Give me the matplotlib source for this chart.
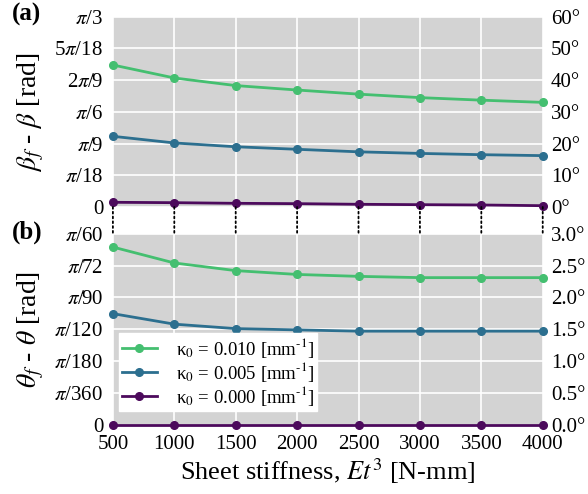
import numpy as np
import matplotlib
matplotlib.use("Agg")
import matplotlib.pyplot as plt
from matplotlib.patches import ConnectionPatch

plt.rcParams['font.family'] = ['Liberation Serif', 'DejaVu Serif']
plt.rcParams['mathtext.fontset'] = 'stix'

stiffness = [500, 1000, 1500, 2000, 2500, 3000, 3500, 4000]

# panel (a): beta_f - beta, degrees
beta_010 = [44.8, 40.7, 38.3, 36.9, 35.6, 34.5, 33.7, 33.0]
beta_005 = [22.3, 20.2, 19.0, 18.2, 17.4, 16.9, 16.5, 16.2]
beta_000 = [1.48, 1.36, 1.16, 1.05, 0.85, 0.73, 0.63, 0.41]

# panel (b): theta_f - theta, degrees
theta_010 = [2.79, 2.54, 2.42, 2.36, 2.33, 2.31, 2.31, 2.31]
theta_005 = [1.745, 1.58, 1.51, 1.49, 1.47, 1.47, 1.47, 1.47]
theta_000 = [0, 0, 0, 0, 0, 0, 0, 0]

labels = [r'κ$_0$ = 0.010 [mm$^{\text{-}1}$]', r'κ$_0$ = 0.005 [mm$^{\text{-}1}$]',
          r'κ$_0$ = 0.000 [mm$^{\text{-}1}$]']
colors = ['#44bf70', '#2c6f8f', '#4c0a5c']

a_ticks = [r'0', r'$\pi$/18', r'$\pi$/9', r'$\pi$/6', r'2$\pi$/9', r'5$\pi$/18', r'$\pi$/3']
b_ticks = [r'0', r'$\pi$/360', r'$\pi$/180', r'$\pi$/120', r'$\pi$/90', r'$\pi$/72', r'$\pi$/60']

fig = plt.figure(figsize=(5.88, 4.94), dpi=100)
ax1 = fig.add_axes([0.192, 0.581, 0.731, 0.385])
ax2 = fig.add_axes([0.192, 0.140, 0.731, 0.387])


def style(ax, deg_max, deg_step, ticklabels, fmt):
    ax.set_facecolor('#d3d3d3')
    for s in ax.spines.values():
        s.set_visible(False)
    ax.grid(True, color='white', linewidth=1.2)
    ax.set_axisbelow(True)
    ax.set_xlim(500, 4000)
    ax.set_xticks(stiffness)
    lim = np.deg2rad(deg_max)
    ax.set_ylim(0, lim)
    ax.set_yticks(np.linspace(0, lim, 7))
    ax.set_yticklabels(ticklabels)
    ax.tick_params(length=0, labelsize=15, pad=7)
    tw = ax.twinx()
    tw.set_ylim(0, deg_max)
    degs = np.arange(0, deg_max + deg_step / 2, deg_step)
    tw.set_yticks(degs)
    tw.set_yticklabels([fmt.format(d) for d in degs])
    tw.tick_params(length=0, labelsize=15, pad=6)
    for s in tw.spines.values():
        s.set_visible(False)
    return tw


style(ax1, 60, 10, a_ticks, '{:.0f}°')
style(ax2, 3, 0.5, b_ticks, '{:.1f}°')

for ys, c, lab in zip([beta_010, beta_005, beta_000], colors, labels):
    ax1.plot(stiffness, np.deg2rad(ys), '-o', color=c, lw=2.0, ms=5.5, label=lab, clip_on=False, zorder=3)
for ys, c, lab in zip([theta_010, theta_005, theta_000], colors, labels):
    ax2.plot(stiffness, np.deg2rad(ys), '-o', color=c, lw=2.0, ms=5.5, label=lab, clip_on=False, zorder=3)

ax1.tick_params(axis='x', labelbottom=False)
ax2.set_xticklabels([str(x) for x in stiffness])

ax1.set_ylabel(r'$\beta_f$ - $\beta$ [rad]', fontsize=20, labelpad=6)
ax2.set_ylabel(r'$\theta_f$ - $\theta$ [rad]', fontsize=20, labelpad=6)
ax2.set_xlabel(r'Sheet stiffness, $Et^3$ [N-mm]', fontsize=19, labelpad=2)

leg = ax2.legend(loc='lower left', bbox_to_anchor=(0.005, 0.055), fontsize=13.5, frameon=True,
                 fancybox=False, framealpha=1, edgecolor='white', handlelength=1.9,
                 borderpad=0.15, labelspacing=0.0, handletextpad=1.0, borderaxespad=0.2)
leg.set_zorder(5)

# dotted connectors between the panels
for x in stiffness:
    con = ConnectionPatch(xyA=(x, 0), coordsA=ax1.transData,
                          xyB=(x, np.deg2rad(3)), coordsB=ax2.transData,
                          linestyle=':', color='black', linewidth=1.3)
    fig.add_artist(con)

fig.text(0.02, 0.97, '(a)', fontsize=18, fontweight='bold', va='center')
fig.text(0.02, 0.53, '(b)', fontsize=18, fontweight='bold', va='center')

fig.savefig('out.png', dpi=100)
